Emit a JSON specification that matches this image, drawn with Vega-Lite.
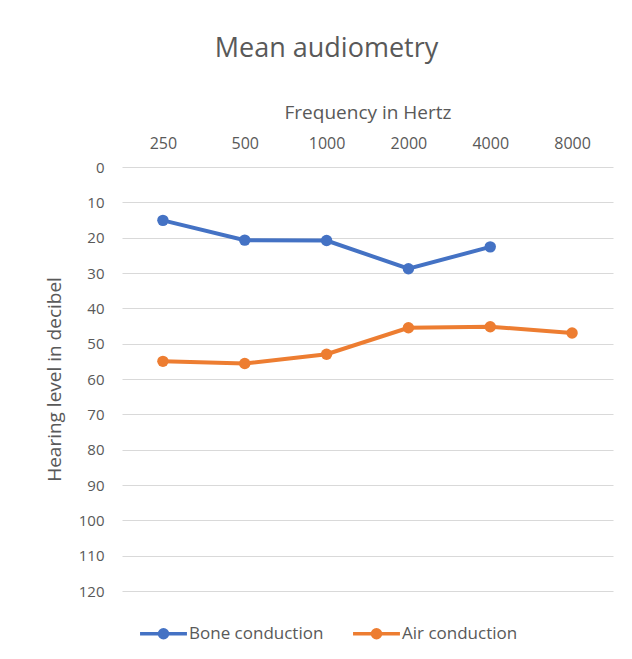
{
  "$schema": "https://vega.github.io/schema/vega-lite/v6.json",
  "autosize": "none",
  "width": 491,
  "height": 424,
  "padding": {"left": 122, "top": 167, "right": 19, "bottom": 68},
  "background": "white",
  "title": {"text": "Mean audiometry", "fontSize": 27, "font": "Open Sans", "fontWeight": "normal", "color": "#595959", "anchor": "middle", "dx": -41, "offset": 40},
  "data": {"values": [
    {"freq": "250", "series": "Bone conduction", "db": 15.1},
    {"freq": "500", "series": "Bone conduction", "db": 20.7},
    {"freq": "1000", "series": "Bone conduction", "db": 20.8},
    {"freq": "2000", "series": "Bone conduction", "db": 28.8},
    {"freq": "4000", "series": "Bone conduction", "db": 22.6},
    {"freq": "250", "series": "Air conduction", "db": 55.0},
    {"freq": "500", "series": "Air conduction", "db": 55.6},
    {"freq": "1000", "series": "Air conduction", "db": 53.0},
    {"freq": "2000", "series": "Air conduction", "db": 45.5},
    {"freq": "4000", "series": "Air conduction", "db": 45.2},
    {"freq": "8000", "series": "Air conduction", "db": 47.0}
  ]},
  "encoding": {
    "x": {"field": "freq", "type": "ordinal", "sort": ["250", "500", "1000", "2000", "4000", "8000"],
      "scale": {"type": "point", "padding": 0.5},
      "axis": {"orient": "top", "title": "Frequency in Hertz", "labelAngle": 0, "ticks": false, "domain": false, "grid": false, "labelPadding": 16, "titlePadding": 13, "labelFontSize": 16, "titleFontSize": 19, "labelColor": "#595959", "titleColor": "#595959", "labelFont": "Open Sans", "titleFont": "Open Sans", "titleFontWeight": "normal"}},
    "y": {"field": "db", "type": "quantitative",
      "scale": {"domain": [0, 120], "reverse": true, "nice": false, "zero": false},
      "axis": {"title": "Hearing level in decibel", "values": [0,10,20,30,40,50,60,70,80,90,100,110,120], "ticks": false, "domain": false, "gridColor": "#d9d9d9", "gridWidth": 1, "labelPadding": 18, "titlePadding": 14, "labelFontSize": 15, "titleFontSize": 19, "labelColor": "#595959", "titleColor": "#595959", "labelFont": "Open Sans", "titleFont": "Open Sans", "titleFontWeight": "normal"}},
    "color": {"field": "series", "type": "nominal",
      "scale": {"domain": ["Bone conduction", "Air conduction"], "range": ["#4472C4", "#ED7D31"]},
      "legend": {"title": null, "orient": "none", "legendX": 16, "legendY": 441, "direction": "horizontal", "labelFontSize": 17, "labelFont": "Open Sans", "labelColor": "#595959", "symbolType": "M-1,0L1,0M0.17,0A0.17,0.17 0 1,1 -0.17,0A0.17,0.17 0 1,1 0.17,0", "symbolSize": 2200, "symbolStrokeWidth": 3.5, "columnPadding": 22, "labelOffset": 0}}
  },
  "layer": [
    {"mark": {"type": "line", "strokeWidth": 4}},
    {"mark": {"type": "point", "filled": true, "size": 130, "opacity": 1}}
  ],
  "config": {"view": {"stroke": null}}
}
